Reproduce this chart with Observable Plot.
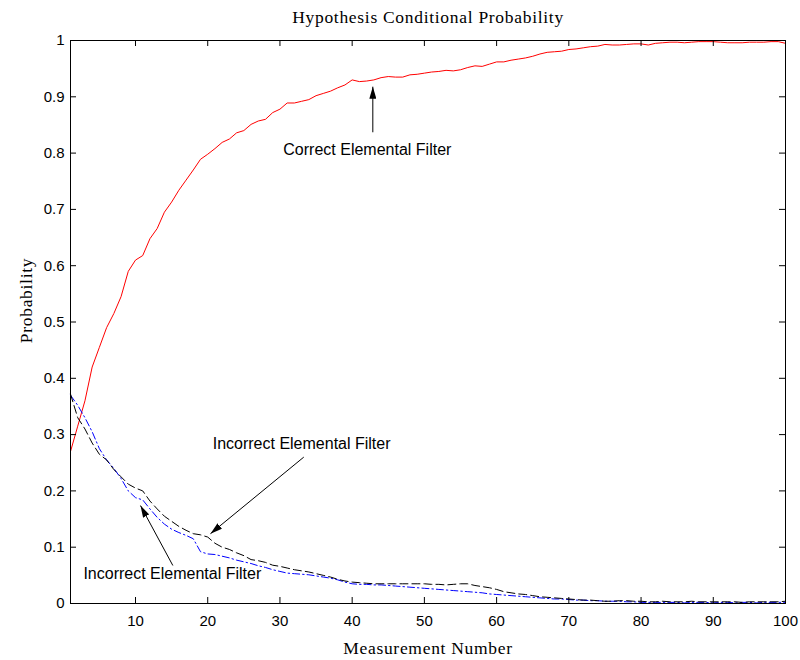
<!DOCTYPE html>
<html><head><meta charset="utf-8">
<script src="https://cdn.jsdelivr.net/npm/d3@7"></script>
<script src="https://cdn.jsdelivr.net/npm/@observablehq/plot@0.6"></script>
<style>
body{margin:0;background:#fff;}
.serif-label text{letter-spacing:0.7px;}
</style></head><body><div id="chart"></div>
<script>
// Measurement numbers 1..100
const measurement = d3.range(1, 101);

// Correct elemental filter (red, solid)
const correctFilter = [
0.270,0.315,0.360,0.420,0.455,0.490,0.515,0.545,0.590,0.610,
0.618,0.648,0.666,0.695,0.713,0.734,0.752,0.770,0.789,0.798,
0.808,0.819,0.825,0.836,0.840,0.851,0.857,0.860,0.872,0.878,
0.889,0.889,0.892,0.895,0.902,0.906,0.910,0.916,0.921,0.930,
0.927,0.928,0.930,0.934,0.936,0.935,0.935,0.939,0.940,0.942,
0.944,0.945,0.947,0.946,0.948,0.952,0.955,0.954,0.958,0.962,
0.962,0.965,0.967,0.969,0.972,0.976,0.979,0.980,0.981,0.984,
0.985,0.987,0.989,0.990,0.993,0.992,0.992,0.993,0.994,0.994,
0.992,0.995,0.996,0.997,0.997,0.996,0.997,0.998,0.998,0.998,
0.997,0.996,0.996,0.996,0.997,0.997,0.997,0.998,0.998,0.995];

// Incorrect elemental filter A (black, dashed)
const incorrectFilterA = [
0.372,0.330,0.310,0.285,0.265,0.255,0.238,0.225,0.212,0.205,
0.200,0.182,0.168,0.155,0.146,0.137,0.130,0.124,0.122,0.118,
0.107,0.100,0.096,0.090,0.085,0.078,0.076,0.073,0.068,0.066,
0.063,0.060,0.058,0.056,0.053,0.050,0.047,0.043,0.040,0.038,
0.037,0.036,0.035,0.035,0.035,0.035,0.035,0.035,0.035,0.035,
0.034,0.034,0.033,0.034,0.035,0.035,0.032,0.030,0.028,0.025,
0.021,0.019,0.017,0.016,0.014,0.012,0.011,0.010,0.009,0.008,
0.007,0.006,0.006,0.005,0.004,0.004,0.005,0.005,0.004,0.004,
0.003,0.003,0.004,0.003,0.003,0.003,0.004,0.003,0.003,0.003,
0.003,0.003,0.003,0.002,0.003,0.003,0.003,0.003,0.003,0.004];

// Incorrect elemental filter B (blue, dash-dot)
const incorrectFilterB = [
0.370,0.352,0.330,0.305,0.275,0.255,0.240,0.222,0.200,0.188,
0.184,0.168,0.153,0.141,0.132,0.126,0.121,0.115,0.092,0.088,
0.087,0.084,0.081,0.077,0.074,0.071,0.067,0.064,0.060,0.057,
0.054,0.053,0.052,0.051,0.049,0.047,0.045,0.042,0.038,0.035,
0.034,0.034,0.033,0.033,0.032,0.031,0.030,0.029,0.028,0.027,
0.026,0.025,0.024,0.023,0.022,0.021,0.020,0.019,0.017,0.016,
0.015,0.014,0.013,0.012,0.011,0.010,0.009,0.008,0.008,0.007,
0.006,0.006,0.005,0.005,0.004,0.004,0.004,0.003,0.003,0.002,
0.002,0.002,0.002,0.002,0.002,0.001,0.002,0.002,0.002,0.001,
0.002,0.002,0.001,0.002,0.002,0.001,0.002,0.002,0.002,0.002];

const xTicks = [10,20,30,40,50,60,70,80,90,100];
const yTicks = [0,0.1,0.2,0.3,0.4,0.5,0.6,0.7,0.8,0.9,1];

const titleText = "Hypothesis Conditional Probability";
const xLabelText = "Measurement Number";
const yLabelText = "Probability";

// Annotations
const annotationLabels = ["Correct Elemental Filter","Incorrect Elemental Filter","Incorrect Elemental Filter"];
const annotationX = [42.1, 33.0, 15.1];
const annotationY = [0.805, 0.284, 0.052];
const arrowX1 = [42.86, 33.3, 15.17];
const arrowY1 = [0.837, 0.260, 0.0675];
const arrowX2 = [42.86, 20.38, 10.69];
const arrowY2 = [0.918, 0.124, 0.174];

const redRows = measurement.map((m,i)=>({m, v: correctFilter[i]}));
const blackRows = measurement.map((m,i)=>({m, v: incorrectFilterA[i]}));
const blueRows = measurement.map((m,i)=>({m, v: incorrectFilterB[i]}));
const annRows = annotationLabels.map((t,i)=>({t, x: annotationX[i], y: annotationY[i]}));
const arrowRows = arrowX1.map((x,i)=>({x1: x, y1: arrowY1[i], x2: arrowX2[i], y2: arrowY2[i]}));

const W=800, H=660, mL=70, mR=15, mT=40, mB=57;
const plotW = W-mL-mR, plotH = H-mT-mB;
const tickLen = 6;
const sans = "'Liberation Sans', Arial, Helvetica, sans-serif";
const serif = "'Liberation Serif', 'Times New Roman', serif";

const chart = Plot.plot({
  width: W, height: H,
  marginLeft: mL, marginRight: mR, marginTop: mT, marginBottom: mB,
  style: {fontFamily: sans, fontSize: "15px", color: "black", background: "white"},
  x: {domain: [1, 100]},
  y: {domain: [0, 1]},
  marks: [
    Plot.line(redRows, {x: "m", y: "v", stroke: "#ff0000", strokeWidth: 1}),
    Plot.line(blueRows, {x: "m", y: "v", stroke: "#0000ff", strokeWidth: 1, strokeDasharray: "7,3,1.5,3"}),
    Plot.line(blackRows, {x: "m", y: "v", stroke: "black", strokeWidth: 1, strokeDasharray: "8,4"}),
    Plot.frame({stroke: "black", strokeWidth: 1}),
    Plot.tickX(xTicks, {x: d=>d, insetTop: plotH - tickLen, stroke: "black"}),
    Plot.tickX(xTicks, {x: d=>d, insetBottom: plotH - tickLen, stroke: "black"}),
    Plot.tickY(yTicks, {y: d=>d, insetRight: plotW - tickLen, stroke: "black"}),
    Plot.tickY(yTicks, {y: d=>d, insetLeft: plotW - tickLen, stroke: "black"}),
    Plot.axisX({ticks: xTicks, tickSize: 0, tickPadding: 12, label: null, tickFormat: d=>String(d), fontSize: 15, fontFamily: sans, fill: "black"}),
    Plot.axisY({ticks: yTicks, tickSize: 0, tickPadding: 6, label: null, tickFormat: d=>String(d), fontSize: 15, fontFamily: sans, fill: "black"}),
    Plot.link(arrowRows, {x1: "x1", y1: "y1", x2: "x2", y2: "y2", stroke: "black", strokeWidth: 1, className: "annot-arrow"}),
    Plot.text(annRows, {x: "x", y: "y", text: "t", fontFamily: sans, fontSize: 16, fill: "black", textAnchor: "middle", lineAnchor: "middle"}),
    Plot.text([titleText], {text: d=>d, frameAnchor: "top", dy: -23, lineAnchor: "middle", textAnchor: "middle", fontFamily: serif, fontSize: 17.5, fill: "black", className: "serif-label"}),
    Plot.text([xLabelText], {text: d=>d, frameAnchor: "bottom", dy: 44.5, lineAnchor: "middle", textAnchor: "middle", fontFamily: serif, fontSize: 17.5, fill: "black", className: "serif-label"}),
    Plot.text([yLabelText], {text: d=>d, frameAnchor: "left", dx: -44, dy: -21.5, rotate: -90, lineAnchor: "middle", textAnchor: "middle", fontFamily: serif, fontSize: 17.5, fill: "black", className: "serif-label"})
  ]
});

// filled arrowheads for the annotation links
const ns = "http://www.w3.org/2000/svg";
const defs = document.createElementNS(ns, "defs");
const marker = document.createElementNS(ns, "marker");
marker.setAttribute("id", "filledHead");
marker.setAttribute("viewBox", "0 0 12 7");
marker.setAttribute("refX", "12");
marker.setAttribute("refY", "3.5");
marker.setAttribute("markerWidth", "12");
marker.setAttribute("markerHeight", "7");
marker.setAttribute("markerUnits", "userSpaceOnUse");
marker.setAttribute("orient", "auto");
const head = document.createElementNS(ns, "path");
head.setAttribute("d", "M0,0L12,3.5L0,7Z");
head.setAttribute("fill", "black");
marker.appendChild(head);
defs.appendChild(marker);
chart.insertBefore(defs, chart.firstChild);
chart.querySelectorAll(".annot-arrow path").forEach(p => p.setAttribute("marker-end", "url(#filledHead)"));

document.getElementById("chart").appendChild(chart);
</script></body></html>
